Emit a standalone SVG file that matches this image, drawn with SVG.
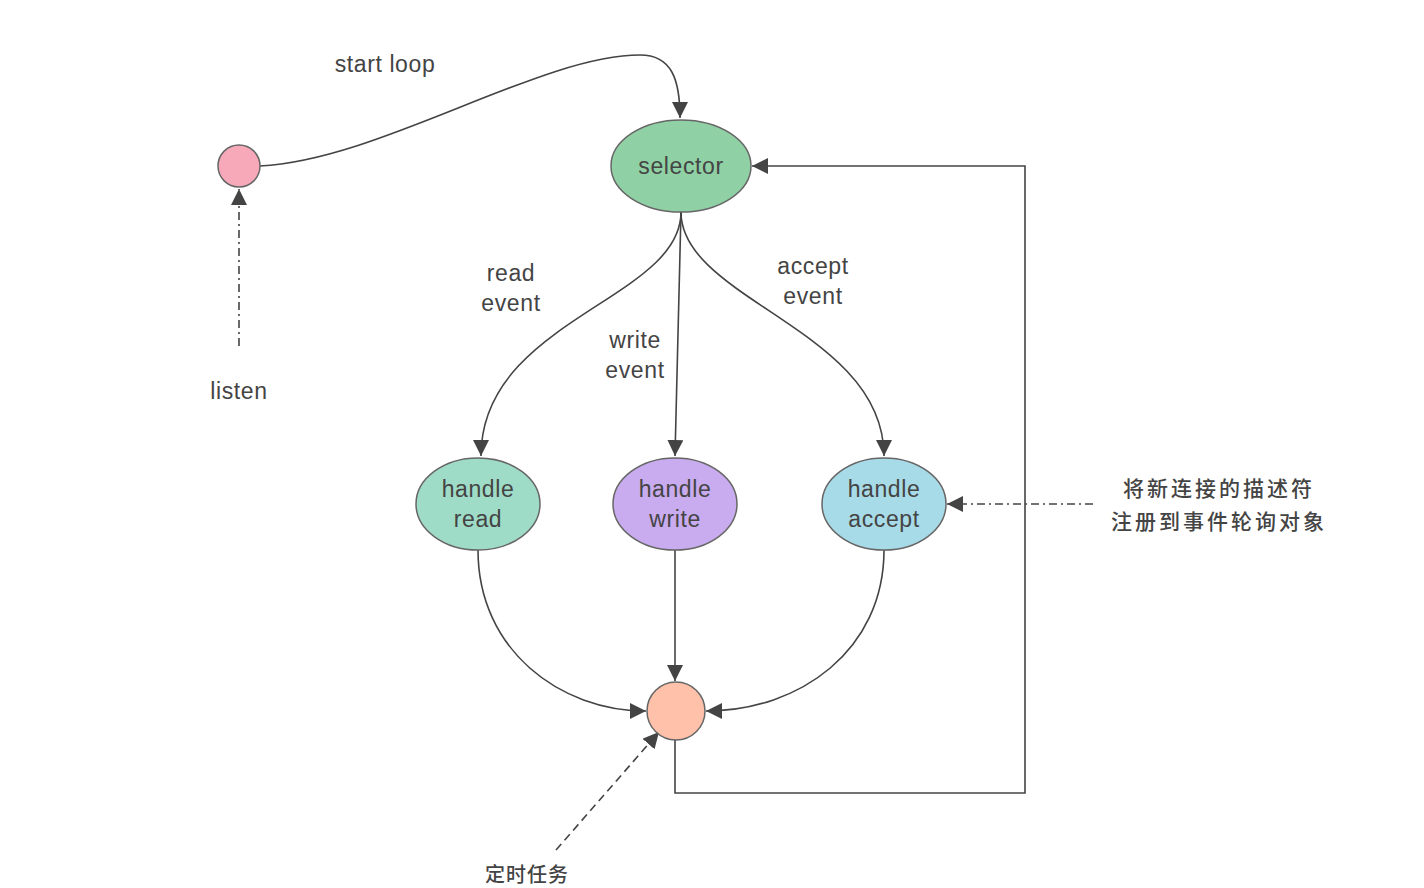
<svg xmlns="http://www.w3.org/2000/svg" width="1424" height="888" viewBox="0 0 1424 888">
<style>
.t{font-family:"Liberation Sans","Noto Sans CJK SC",sans-serif;font-size:23px;letter-spacing:0.6px;fill:#444;text-anchor:middle;dominant-baseline:central}
.cn{font-family:"Noto Sans CJK SC",sans-serif;font-size:21px;letter-spacing:3px;font-weight:500;fill:#444;text-anchor:middle;dominant-baseline:central}
.n{stroke:#666;stroke-width:1.5}
.c{fill:none;stroke:#444;stroke-width:1.6}
.dd{stroke-dasharray:8 4 2 4}
</style>
<defs>
<marker id="ah" viewBox="0 0 10 10" refX="10" refY="5" markerWidth="16" markerHeight="16" markerUnits="userSpaceOnUse" orient="auto">
<path d="M0,0 L10,5 L0,10 z" fill="#444"/>
</marker>
</defs>
<rect width="1424" height="888" fill="#fff"/>
<g id="connectors">
<path class="c" d="M260,166 C380,160 540,55 640,55 C672,55 680,80 680,118" marker-end="url(#ah)"/>
<path class="c dd" d="M239,346 L239,189" marker-end="url(#ah)"/>
<path class="c" d="M681,212 C681,300 481,320 481,456" marker-end="url(#ah)"/>
<path class="c" d="M681,212 L675,456" marker-end="url(#ah)"/>
<path class="c" d="M681,212 C681,300 884,330 884,456" marker-end="url(#ah)"/>
<path class="c" d="M478,550 C478,650 560,711 646,711" marker-end="url(#ah)"/>
<path class="c" d="M675,550 L675,681" marker-end="url(#ah)"/>
<path class="c" d="M884,550 C884,650 800,711 706,711" marker-end="url(#ah)"/>
<path class="c" d="M675,740 L675,793 L1025,793 L1025,166 L752,166" marker-end="url(#ah)"/>
<path class="c dd" d="M1093,504 L947,504" marker-end="url(#ah)"/>
<path class="c" stroke-dasharray="8 5" d="M556,850 L659,732" marker-end="url(#ah)"/>
</g>
<g id="start"><circle class="n" cx="239" cy="166" r="21" fill="#f7a9b9"/></g>
<g id="selector"><ellipse class="n" cx="681" cy="166" rx="70" ry="46" fill="#8fd1a5"/><text class="t" x="681" y="166">selector</text></g>
<g id="handle-read"><ellipse class="n" cx="478" cy="504" rx="62" ry="46" fill="#9fdcc7"/><text class="t" x="478" y="489">handle</text><text class="t" x="478" y="519">read</text></g>
<g id="handle-write"><ellipse class="n" cx="675" cy="504" rx="62" ry="46" fill="#c9abef"/><text class="t" x="675" y="489">handle</text><text class="t" x="675" y="519">write</text></g>
<g id="handle-accept"><ellipse class="n" cx="884" cy="504" rx="62" ry="46" fill="#a8dbe8"/><text class="t" x="884" y="489">handle</text><text class="t" x="884" y="519">accept</text></g>
<g id="join"><circle class="n" cx="676" cy="711" r="29" fill="#ffc1a9"/></g>
<g id="labels">
<text class="t" x="385" y="64">start loop</text>
<text class="t" x="239" y="391">listen</text>
<text class="t" x="511" y="273">read</text><text class="t" x="511" y="303">event</text>
<text class="t" x="635" y="340">write</text><text class="t" x="635" y="370">event</text>
<text class="t" x="813" y="266">accept</text><text class="t" x="813" y="296">event</text>
<text class="cn" x="1219" y="487">将新连接的描述符</text>
<text class="cn" x="1219" y="520">注册到事件轮询对象</text>
<text class="cn" x="527" y="873" style="font-size:20px;letter-spacing:1px">定时任务</text>
</g>
</svg>
